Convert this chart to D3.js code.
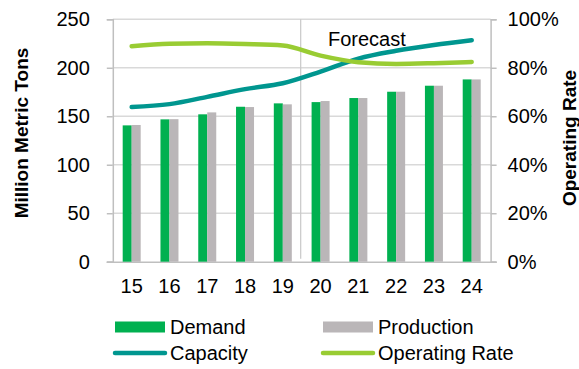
<!DOCTYPE html>
<html>
<head>
<meta charset="utf-8">
<script src="https://cdn.jsdelivr.net/npm/d3@7"></script>
<style>
  body { margin: 0; background: #fff; }
  text { font-family: "Liberation Sans", Arial, sans-serif; fill: #000; }
</style>
</head>
<body>
<svg id="chart" width="579" height="369"></svg>
<script>
var years = ["15", "16", "17", "18", "19", "20", "21", "22", "23", "24"];
var demand = [140.6, 146.8, 152, 159.8, 163.3, 164.6, 168.8, 175.3, 181.5, 188];
var production = [141, 147, 154, 159.5, 162.3, 165.7, 168.8, 175.3, 181.5, 188];
var capacity = [159.5, 162.5, 170, 178, 184, 196, 209.5, 217.5, 223.5, 228.5];
var operatingRate = [0.889, 0.899, 0.901, 0.898, 0.892, 0.850, 0.823, 0.816, 0.819, 0.824];
var leftTicks = [0, 50, 100, 150, 200, 250];
var rightTicks = [0, 0.2, 0.4, 0.6, 0.8, 1];
var forecastStart = "20";

var svg = d3.select("#chart");
var plotLeft = 112.8, plotRight = 490.6, plotTop = 19.3, plotBottom = 261.7;

var x = d3.scaleBand().domain(years).range([plotLeft, plotRight]);
var yL = d3.scaleLinear().domain([0, 250]).range([plotBottom, plotTop]);
var yR = d3.scaleLinear().domain([0, 1]).range([plotBottom, plotTop]);

var green = "#00B050", grey = "#BAB6B8", teal = "#00968F", lime = "#99CC33";
var fs = 20;

// gridlines
svg.append("g").selectAll("line").data(leftTicks.slice(1)).enter().append("line")
    .attr("x1", plotLeft).attr("x2", plotRight)
    .attr("y1", function(d) { return yL(d); }).attr("y2", function(d) { return yL(d); })
    .attr("stroke", "#D9D9D9").attr("stroke-width", 1.5);

// axes
var axL = svg.append("g").attr("transform", "translate(" + plotLeft + ",0)")
    .call(d3.axisLeft(yL).tickValues(leftTicks).tickSize(6).tickPadding(17));
var axR = svg.append("g").attr("transform", "translate(" + plotRight + ",0)")
    .call(d3.axisRight(yR).tickValues(rightTicks).tickSize(6).tickPadding(11).tickFormat(d3.format(".0%")));
var axB = svg.append("g").attr("transform", "translate(0," + plotBottom + ")")
    .call(d3.axisBottom(x).tickSize(0).tickPadding(17));
[axL, axR, axB].forEach(function(a) {
  a.selectAll("path, line").attr("stroke", "#BFBFBF").attr("stroke-width", 1.5);
  a.selectAll("text").attr("font-size", fs).attr("font-family", "Liberation Sans, Arial, sans-serif");
});
axB.select(".domain").attr("d", "M" + (plotLeft - 6) + ",0.5H" + (plotRight + 6));

// forecast divider
var fx = x(forecastStart) - 1;
svg.append("line").attr("x1", fx).attr("x2", fx).attr("y1", plotTop).attr("y2", plotBottom - 3)
    .attr("stroke", "#C8C8C8").attr("stroke-width", 1.2);
svg.append("text").attr("x", 328).attr("y", 46).attr("font-size", fs).text("Forecast");

// bars
var bw = 9;
svg.append("g").selectAll("rect").data(demand).enter().append("rect")
    .attr("x", function(d, i) { return x(years[i]) + x.bandwidth() / 2 - bw; })
    .attr("y", function(d) { return yL(d); })
    .attr("width", bw).attr("height", function(d) { return plotBottom - yL(d); })
    .attr("fill", green);
svg.append("g").selectAll("rect").data(production).enter().append("rect")
    .attr("x", function(d, i) { return x(years[i]) + x.bandwidth() / 2; })
    .attr("y", function(d) { return yL(d); })
    .attr("width", bw).attr("height", function(d) { return plotBottom - yL(d); })
    .attr("fill", grey);

// lines
var cx = function(d, i) { return x(years[i]) + x.bandwidth() / 2; };
svg.append("path").datum(capacity)
    .attr("d", d3.line().x(cx).y(function(d) { return yL(d); }).curve(d3.curveMonotoneX))
    .attr("fill", "none").attr("stroke", teal).attr("stroke-width", 4.5).attr("stroke-linecap", "round");
svg.append("path").datum(operatingRate)
    .attr("d", d3.line().x(cx).y(function(d) { return yR(d); }).curve(d3.curveMonotoneX))
    .attr("fill", "none").attr("stroke", lime).attr("stroke-width", 4.5).attr("stroke-linecap", "round");

// axis titles
svg.append("text").attr("transform", "translate(28,133) rotate(-90)")
    .attr("text-anchor", "middle").attr("font-size", 19).attr("font-weight", "bold")
    .text("Million Metric Tons");
svg.append("text").attr("transform", "translate(576,138) rotate(-90)")
    .attr("text-anchor", "middle").attr("font-size", 19).attr("font-weight", "bold")
    .text("Operating Rate");

// legend
var legend = [
  { name: "Demand", color: green, type: "rect", x: 115, y: 327 },
  { name: "Production", color: grey, type: "rect", x: 323, y: 327 },
  { name: "Capacity", color: teal, type: "line", x: 115, y: 353 },
  { name: "Operating Rate", color: lime, type: "line", x: 323, y: 353 }
];
var lg = svg.append("g").selectAll("g").data(legend).enter().append("g")
    .attr("transform", function(d) { return "translate(" + d.x + "," + d.y + ")"; });
lg.filter(function(d) { return d.type === "rect"; }).append("rect")
    .attr("x", 0).attr("y", -5.5).attr("width", 50).attr("height", 11)
    .attr("fill", function(d) { return d.color; });
lg.filter(function(d) { return d.type === "line"; }).append("line")
    .attr("x1", 0).attr("x2", 50).attr("y1", 0).attr("y2", 0)
    .attr("stroke", function(d) { return d.color; }).attr("stroke-width", 4.5).attr("stroke-linecap", "round");
lg.append("text").attr("x", 55).attr("y", 7).attr("font-size", fs)
    .text(function(d) { return d.name; });
</script>
</body>
</html>
